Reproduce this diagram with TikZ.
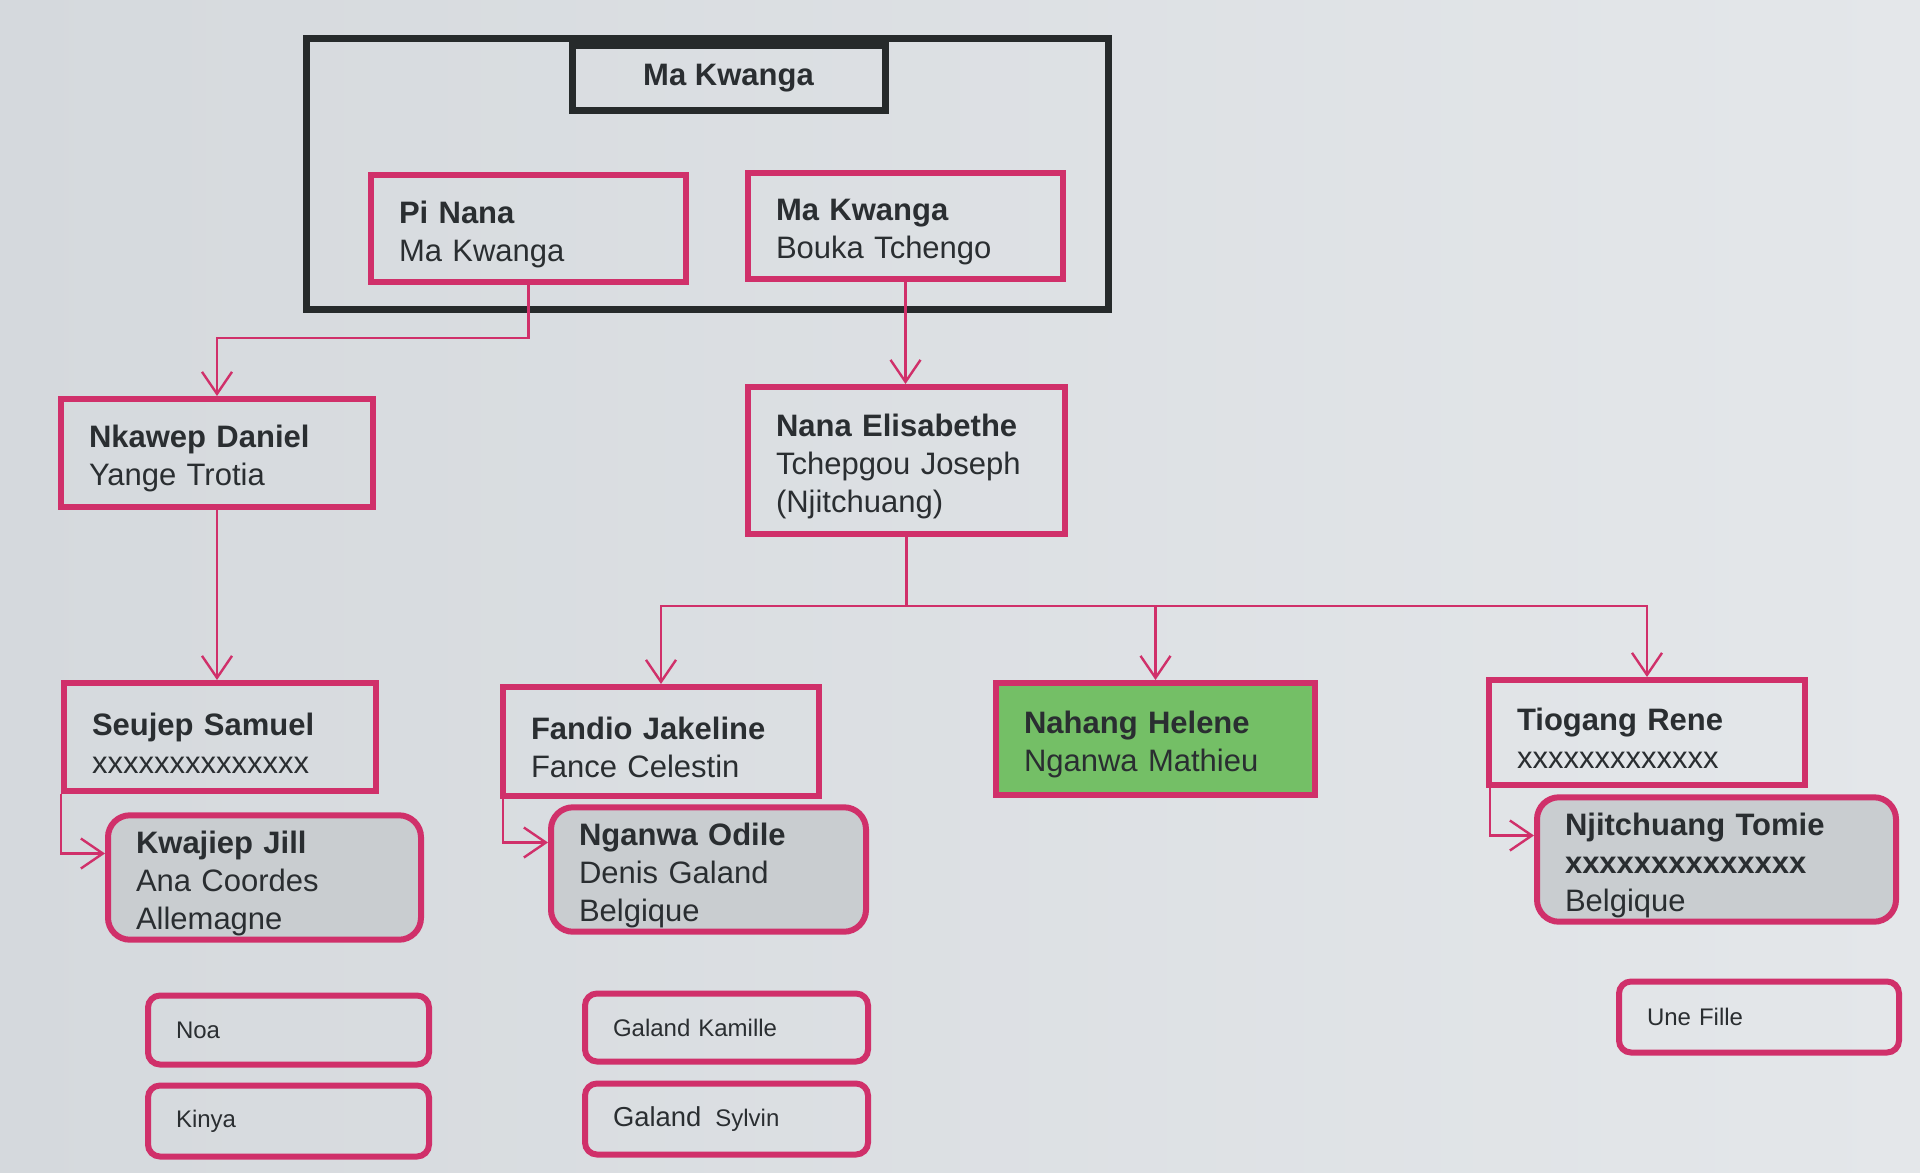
\documentclass[tikz,border=0pt]{standalone}
\usepackage{fontspec}
\setmainfont{Liberation Sans}
\usetikzlibrary{arrows.meta}
\definecolor{pk}{HTML}{D0306A}
\definecolor{bgl}{HTML}{D5D9DD}
\definecolor{bgr}{HTML}{E4E7EA}
\definecolor{ink}{HTML}{2A2E31}
\definecolor{grn}{HTML}{74BF66}
\definecolor{gry}{HTML}{C9CDD0}
\definecolor{blk}{HTML}{262A2B}
\newcommand{\firstpad}{\rule{0pt}{17pt}}
\begin{document}
\begin{tikzpicture}[x=0.5pt,y=-0.5pt,
 basebox/.style={draw=pk, line width=3pt, inner xsep=14pt, inner ysep=2pt, align=left, text=ink},
 pbox/.style={basebox, font=\fontsize{15.5}{19}\selectfont, execute at begin node=\firstpad},
 kbox/.style={draw=blk, line width=3.5pt, inner sep=0pt, text=ink},
 rbox/.style={pbox, rounded corners=11pt, fill=gry},
 sbox/.style={basebox, rounded corners=6pt, font=\fontsize{12}{14}\selectfont},
 gbox/.style={pbox, fill=grn},
 conn/.style={draw=pk, line width=1.2pt, -{Straight Barb[length=11pt,width=15pt]}},
 ]
\shade[left color=bgl, right color=bgr] (0,0) rectangle (1920,1172);
\useasboundingbox (0,0) rectangle (1920,1172);

% nodes
\node[kbox, minimum width=401pt, minimum height=135pt] (outer) at (707,174) {};
\node[kbox, minimum width=156.5pt, minimum height=32.5pt, font=\bfseries\fontsize{15.5}{19}\selectfont] (top) at (728.5,78) {Ma Kwanga};
\node[pbox, text width=129.5pt, minimum height=53.5pt] (pinana) at (528.5,228.5) {\textbf{Pi Nana}\\Ma Kwanga};
\node[pbox, text width=129.5pt, minimum height=53pt] (mkb) at (905.5,226) {\textbf{Ma Kwanga}\\Bouka Tchengo};
\node[pbox, text width=128pt, minimum height=54pt] (nkawep) at (217,453) {\textbf{Nkawep Daniel}\\Yange Trotia};
\node[pbox, text width=130.5pt, minimum height=73.5pt] (nana) at (906.5,460.5) {\textbf{Nana Elisabethe}\\Tchepgou Joseph\\(Njitchuang)};
\node[pbox, text width=128pt, minimum height=54pt] (seujep) at (220,737) {\textbf{Seujep Samuel}\\xxxxxxxxxxxxxx};
\node[pbox, text width=130pt, minimum height=54.5pt] (fandio) at (661,741.5) {\textbf{Fandio Jakeline}\\Fance Celestin};
\node[gbox, text width=131.5pt, minimum height=56pt] (nahang) at (1155.5,739) {\textbf{Nahang Helene}\\Nganwa Mathieu};
\node[pbox, text width=130pt, minimum height=52.5pt] (tiogang) at (1647,732.5) {\textbf{Tiogang Rene}\\xxxxxxxxxxxxx};
\node[rbox, text width=128.5pt, minimum height=57.5pt] (kwajiep) at (264.5,877.5) {\textbf{Kwajiep Jill}\\Ana Coordes\\Allemagne};
\node[rbox, text width=129.5pt, minimum height=57.5pt] (nganwa) at (708.5,869.5) {\textbf{Nganwa Odile}\\Denis Galand\\Belgique};
\node[rbox, text width=151.5pt, minimum height=56.5pt] (njitom) at (1716.5,859.5) {\textbf{Njitchuang Tomie}\\\textbf{xxxxxxxxxxxxxx}\\Belgique};
\node[sbox, text width=112.5pt, minimum height=34.5pt] (noa) at (288.5,1030) {Noa};
\node[sbox, text width=112.5pt, minimum height=35.5pt] (kinya) at (288.5,1121) {Kinya};
\node[sbox, text width=113.5pt, minimum height=34pt] (kamille) at (726.5,1027.5) {Galand Kamille};
\node[sbox, text width=113.5pt, minimum height=35.5pt] (sylvin) at (726.5,1119) {{\fontsize{13.7}{15}\selectfont Galand}\hspace{7pt}Sylvin};
\node[sbox, text width=112pt, minimum height=35.5pt] (unefille) at (1759,1017) {Une Fille};

% connectors
\coordinate (j1) at (528.5,338);
\coordinate (bus) at (906.5,606);
\draw[conn] (pinana.south) -- (j1) -| (nkawep.north);
\draw[conn] (mkb.south) -- (mkb.south |- nana.north);
\draw[conn] (nkawep.south) -- (nkawep.south |- seujep.north);
\draw[draw=pk, line width=1.2pt] (nana.south) -- (bus);
\draw[conn] (bus) -| (fandio.north);
\draw[conn] (bus) -| (nahang.north);
\draw[conn] (bus) -| (tiogang.north);
\draw[conn] (seujep.south west) |- ([yshift=12pt]kwajiep.west);
\draw[conn] ([xshift=1.5pt]fandio.south west) |- ([yshift=13.5pt]nganwa.west);
\draw[conn] ([xshift=2pt]tiogang.south west) |- ([yshift=12pt]njitom.west);
\end{tikzpicture}
\end{document}
